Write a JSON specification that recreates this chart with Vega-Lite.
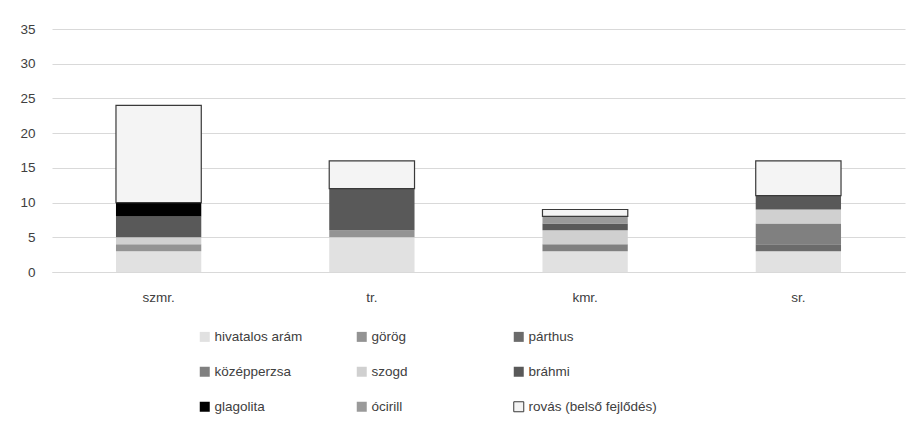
{
  "$schema": "https://vega.github.io/schema/vega-lite/v6.json",
  "autosize": "none",
  "width": 853,
  "height": 243,
  "padding": {"left": 52, "top": 29, "right": 8, "bottom": 159},
  "background": "white",
  "config": {
    "view": {"stroke": null},
    "font": "Liberation Sans"
  },
  "data": {
    "values": [
      {"kat": "szmr.", "nyelv": "hivatalos arám", "db": 3},
      {"kat": "szmr.", "nyelv": "görög", "db": 1},
      {"kat": "szmr.", "nyelv": "szogd", "db": 1},
      {"kat": "szmr.", "nyelv": "bráhmi", "db": 3},
      {"kat": "szmr.", "nyelv": "glagolita", "db": 2},
      {"kat": "szmr.", "nyelv": "rovás (belső fejlődés)", "db": 14},
      {"kat": "tr.", "nyelv": "hivatalos arám", "db": 5},
      {"kat": "tr.", "nyelv": "görög", "db": 1},
      {"kat": "tr.", "nyelv": "bráhmi", "db": 6},
      {"kat": "tr.", "nyelv": "rovás (belső fejlődés)", "db": 4},
      {"kat": "kmr.", "nyelv": "hivatalos arám", "db": 3},
      {"kat": "kmr.", "nyelv": "középperzsa", "db": 1},
      {"kat": "kmr.", "nyelv": "szogd", "db": 2},
      {"kat": "kmr.", "nyelv": "bráhmi", "db": 1},
      {"kat": "kmr.", "nyelv": "ócirill", "db": 1},
      {"kat": "kmr.", "nyelv": "rovás (belső fejlődés)", "db": 1},
      {"kat": "sr.", "nyelv": "hivatalos arám", "db": 3},
      {"kat": "sr.", "nyelv": "párthus", "db": 1},
      {"kat": "sr.", "nyelv": "középperzsa", "db": 3},
      {"kat": "sr.", "nyelv": "szogd", "db": 2},
      {"kat": "sr.", "nyelv": "bráhmi", "db": 2},
      {"kat": "sr.", "nyelv": "rovás (belső fejlődés)", "db": 5}
    ]
  },
  "transform": [
    {"calculate": "indexof(['hivatalos arám', 'görög', 'párthus', 'középperzsa', 'szogd', 'bráhmi', 'glagolita', 'ócirill', 'rovás (belső fejlődés)'], datum.nyelv)", "as": "sorrend"}
  ],
  "mark": {"type": "bar", "strokeWidth": 1.2},
  "encoding": {
    "x": {
      "field": "kat",
      "type": "nominal",
      "sort": ["szmr.", "tr.", "kmr.", "sr."],
      "scale": {"paddingInner": 0.6, "paddingOuter": 0.3},
      "axis": {
        "title": null,
        "labelAngle": 0,
        "ticks": false,
        "domainColor": "#d9d9d9",
        "labelFontSize": 13.5,
        "labelColor": "#404040",
        "labelPadding": 18
      }
    },
    "y": {
      "field": "db",
      "type": "quantitative",
      "stack": "zero",
      "scale": {"domain": [0, 35], "nice": false},
      "axis": {
        "title": null,
        "values": [0, 5, 10, 15, 20, 25, 30, 35],
        "domain": false,
        "ticks": false,
        "gridColor": "#d9d9d9",
        "labelFontSize": 13.5,
        "labelColor": "#404040",
        "labelPadding": 17
      }
    },
    "order": {"field": "sorrend", "type": "quantitative", "sort": "ascending"},
    "color": {
      "field": "nyelv",
      "type": "nominal",
      "scale": {
        "domain": ["hivatalos arám", "görög", "párthus", "középperzsa", "szogd", "bráhmi", "glagolita", "ócirill", "rovás (belső fejlődés)"],
        "range": ["#e1e1e1", "#939393", "#6b6b6b", "#808080", "#d0d0d0", "#595959", "#000000", "#9a9a9a", "#f4f4f4"]
      },
      "legend": {
        "title": null,
        "orient": "none",
        "legendX": 146,
        "legendY": 301,
        "columns": 3,
        "direction": "horizontal",
        "gridAlign": "all",
        "columnPadding": 11,
        "rowPadding": 20,
        "padding": 0,
        "symbolType": "square",
        "symbolSize": 100,
        "symbolStrokeWidth": 1,
        "labelOffset": 3,
        "labelFontSize": 13.5,
        "labelColor": "#404040",
        "labelLimit": 200
      }
    },
    "stroke": {
      "field": "nyelv",
      "type": "nominal",
      "scale": {
        "domain": ["hivatalos arám", "görög", "párthus", "középperzsa", "szogd", "bráhmi", "glagolita", "ócirill", "rovás (belső fejlődés)"],
        "range": ["transparent", "transparent", "transparent", "transparent", "transparent", "transparent", "transparent", "transparent", "#3a3a3a"]
      },
      "legend": {
        "title": null,
        "orient": "none",
        "legendX": 146,
        "legendY": 301,
        "columns": 3,
        "direction": "horizontal",
        "gridAlign": "all",
        "columnPadding": 11,
        "rowPadding": 20,
        "padding": 0,
        "symbolType": "square",
        "symbolSize": 100,
        "labelOffset": 3,
        "labelFontSize": 13.5,
        "labelColor": "#404040",
        "labelLimit": 200
      }
    }
  }
}
